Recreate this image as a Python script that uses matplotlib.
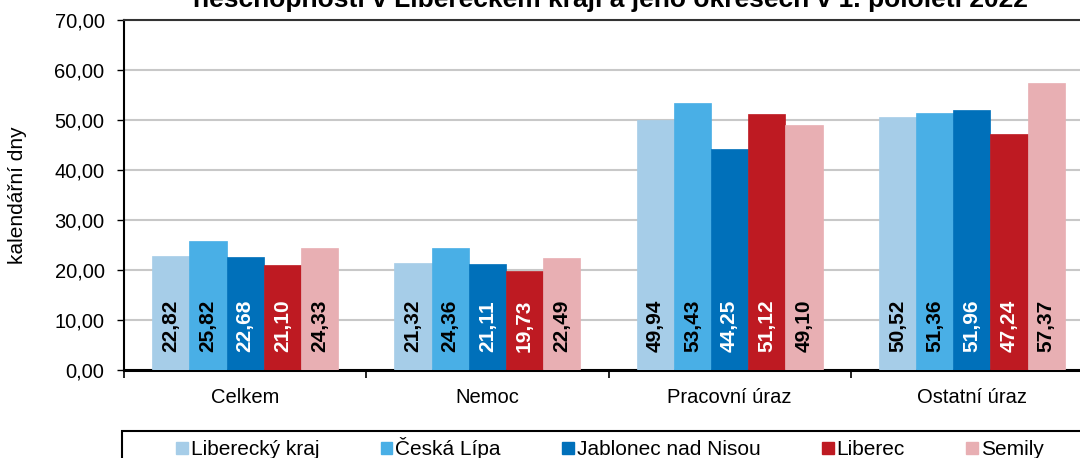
import matplotlib
matplotlib.use("Agg")
import matplotlib.pyplot as plt
import numpy as np
from matplotlib.patches import Patch, Rectangle

plt.rcParams['font.family'] = ['Liberation Sans', 'DejaVu Sans']

categories = ["Celkem", "Nemoc", "Pracovní úraz", "Ostatní úraz"]
series_names = ["Liberecký kraj", "Česká Lípa", "Jablonec nad Nisou", "Liberec", "Semily"]
liberecky_kraj = [22.82, 21.32, 49.94, 50.52]
ceska_lipa = [25.82, 24.36, 53.43, 51.36]
jablonec = [22.68, 21.11, 44.25, 51.96]
liberec = [21.10, 19.73, 51.12, 47.24]
semily = [24.33, 22.49, 49.10, 57.37]
series_values = [liberecky_kraj, ceska_lipa, jablonec, liberec, semily]
colors = ["#A6CDE8", "#49AFE6", "#0070BA", "#BE1A22", "#E8AFB3"]
label_colors = ["black", "black", "white", "white", "black"]
yticks = [0, 10, 20, 30, 40, 50, 60, 70]
title = "Průměrná doba trvání případu pracovní\nneschopnosti v Libereckém kraji a jeho okresech v 1. pololetí 2022"
ylabel = "kalendářní dny"

W, H = 1080, 458
fig = plt.figure(figsize=(W / 100, H / 100), dpi=100)
ax = fig.add_axes([124 / W, (H - 370) / H, (1093 - 124) / W, 350 / H])

x = np.arange(len(categories))
bw = 0.1535
for i, (vals, c, lc) in enumerate(zip(series_values, colors, label_colors)):
    pos = x + (i - 2) * bw
    ax.bar(pos, vals, width=bw, color=c, edgecolor=c, linewidth=0.5, zorder=3)
    for p, v in zip(pos, vals):
        ax.text(p, 3.6, f"{v:.2f}".replace(".", ","), rotation=90, ha="center", va="bottom",
                fontsize=15, fontweight="bold", color=lc, zorder=4)

ax.set_xlim(-0.5, len(categories) - 0.5)
ax.set_ylim(0, 70)
ax.set_yticks(yticks)
ax.set_yticklabels([f"{v:.2f}".replace(".", ",") for v in yticks], fontsize=14.5)
ax.yaxis.grid(True, color="#C8C8C8", linewidth=1.5, zorder=0)
ax.set_axisbelow(True)
ax.set_xticks(x)
ax.set_xticklabels(categories, fontsize=14.5)
ax.set_xticks(np.arange(-0.5, len(categories), 1), minor=True)
ax.tick_params(axis="x", which="major", length=0, pad=13)
ax.tick_params(axis="x", which="minor", length=6, width=1.2, direction="out")
ax.tick_params(axis="y", length=5, width=1.0, direction="out", pad=9)
ax.spines["bottom"].set_linewidth(2.2)
ax.spines["left"].set_linewidth(1.5)
ax.spines["top"].set_linewidth(1.5)
ax.spines["top"].set_color("#333333")
ax.spines["right"].set_visible(False)
ax.set_ylabel(ylabel, fontsize=15)
ax.yaxis.set_label_coords(-(124 - 27) / (1093 - 124), 0.5)

fig.text(610 / W, 1 - 7 / H, title, ha="center", va="baseline", fontsize=19,
         fontweight="bold", linespacing=1.15)

handles = [Patch(facecolor=c, edgecolor=c) for c in colors]
leg = fig.legend(handles, series_names, loc="upper left", bbox_to_anchor=(170 / W, 1 - 431 / H),
                 ncol=5, fontsize=15, frameon=False, handlelength=0.55,
                 handleheight=0.55, handletextpad=0.15, columnspacing=2.95,
                 borderpad=0.3, borderaxespad=0)
fig.patches.append(Rectangle((122 / W, -0.05), 1.0, (H - 431) / H + 0.05,
                             transform=fig.transFigure, fill=False, edgecolor="black",
                             linewidth=1.5, zorder=5))

fig.savefig("out.png", dpi=100)
